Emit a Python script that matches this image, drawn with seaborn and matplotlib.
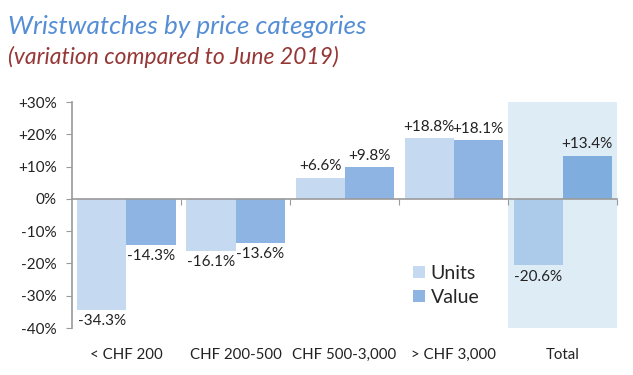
import pandas as pd
import matplotlib.pyplot as plt
import seaborn as sns

# data
categories = ["< CHF 200", "CHF 200-500", "CHF 500-3,000", "> CHF 3,000", "Total"]
units = [-34.3, -16.1, 6.6, 18.8, -20.6]
value = [-14.3, -13.6, 9.8, 18.1, 13.4]
yticks = [-40, -30, -20, -10, 0, 10, 20, 30]

df = pd.DataFrame({
    "category": categories * 2,
    "change": units + value,
    "series": ["Units"] * len(units) + ["Value"] * len(value),
})

sns.set_style("white")
plt.rcParams["font.family"] = ["Lato", "DejaVu Sans"]

fig = plt.figure(figsize=(6.33, 3.75), dpi=100)
ax = fig.add_axes([0.1137, 0.1253, 0.8613, 0.6027])

# shaded "Total" column
ax.axvspan(3.5, 4.5, ymin=0, ymax=1.0, color="#DEECF6", zorder=0, lw=0)

sns.barplot(data=df, x="category", y="change", hue="series",
            palette=["#C5D9F1", "#8DB4E2"], saturation=1, width=0.9, gap=0,
            linewidth=0, edgecolor="none", ax=ax, zorder=2)

# bars on the shaded column look a touch darker
total_cols = ["#ACCBEB", "#7EADDE"]
for cont, col in zip(ax.containers, total_cols):
    cont.patches[-1].set_facecolor(col)

for cont in ax.containers:
    labs = [f"{v.get_height():+.1f}%" for v in cont]
    ax.bar_label(cont, labels=labs, padding=3, fontsize=11, color="#222222")

ax.set_xlim(-0.5, 4.5)
ax.set_ylim(-40, 30)
ax.set_yticks(yticks)
ax.set_yticklabels([f"{t:+d}%" if t > 0 else f"{t}%" for t in yticks], fontsize=11)
ax.set_xlabel("")
ax.set_ylabel("")

for s in ["top", "right"]:
    ax.spines[s].set_visible(False)
ax.spines["left"].set_color("#9a9a9a")
ax.spines["bottom"].set_color("#9a9a9a")
ax.spines["left"].set_linewidth(1.2)
ax.spines["bottom"].set_linewidth(1.2)
ax.spines["bottom"].set_position(("data", 0))
ax.tick_params(axis="y", left=True, length=4, color="#9a9a9a", pad=7, labelcolor="#222222")

ax.set_xticks([0.5, 1.5, 2.5, 3.5, 4.5])
ax.set_xticklabels([])
ax.tick_params(axis="x", bottom=True, length=4, color="#9a9a9a", direction="out")

tr = ax.get_xaxis_transform()
for i, c in enumerate(categories):
    ax.text(i, -0.12, c, transform=tr, ha="center", va="center", fontsize=10.8, color="#222222")

ax.legend(loc="upper left", bbox_to_anchor=(0.625, 0.34), bbox_transform=fig.transFigure,
          frameon=False, fontsize=14, handlelength=0.6, handleheight=0.6,
          handletextpad=0.3, labelspacing=0.35)

fig.text(0.013, 0.928, "Wristwatches by price categories", fontsize=18.8,
         style="italic", color="#558ED5", va="center")
fig.text(0.013, 0.848, "(variation compared to June 2019)", fontsize=16.5,
         style="italic", color="#953735", va="center")

fig.savefig("out.png", dpi=100)
